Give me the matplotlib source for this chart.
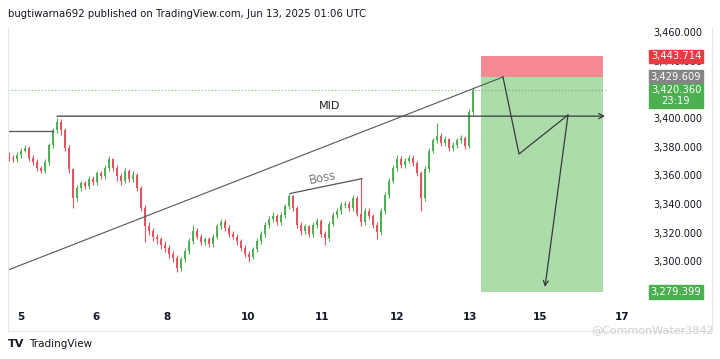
import matplotlib.pyplot as plt
import matplotlib.transforms as mtransforms
import numpy as np

# Price data (XAUUSD, approx. 1 bar per hour)
closes = [3373, 3372, 3375, 3378, 3380, 3373, 3370, 3366, 3364, 3370,
          3382, 3392, 3398, 3392, 3380, 3365, 3345, 3352, 3355, 3353,
          3358, 3356, 3362, 3360, 3366, 3372, 3366, 3360, 3357, 3364,
          3358, 3361, 3352, 3338, 3325, 3322, 3318, 3316, 3312, 3310,
          3306, 3303, 3296, 3302, 3308, 3315, 3322, 3318, 3314, 3316,
          3313, 3318, 3325, 3328, 3324, 3320, 3318, 3315, 3310, 3306,
          3304, 3309, 3315, 3320, 3326, 3330, 3332, 3328, 3333, 3339,
          3346, 3338, 3326, 3322, 3325, 3320, 3326, 3329, 3320, 3317,
          3327, 3333, 3336, 3340, 3341, 3338, 3345, 3334, 3328, 3336,
          3332, 3326, 3321, 3336, 3347, 3357, 3366, 3372, 3368, 3371,
          3373, 3369, 3362, 3345, 3365, 3378, 3385, 3388, 3383, 3386,
          3380, 3382, 3385, 3387, 3381, 3405, 3420.36]
highs = [3377, 3375, 3377, 3380, 3382, 3381, 3375, 3372, 3367, 3372,
         3383, 3394, 3401, 3400, 3394, 3382, 3366, 3354, 3357, 3357,
         3360, 3360, 3364, 3364, 3368, 3374, 3373, 3368, 3362, 3366,
         3365, 3364, 3362, 3353, 3340, 3328, 3324, 3320, 3318, 3315,
         3312, 3308, 3305, 3304, 3310, 3317, 3326, 3324, 3320, 3318,
         3318, 3320, 3327, 3330, 3330, 3326, 3322, 3320, 3316, 3312,
         3308, 3311, 3317, 3322, 3328, 3332, 3335, 3334, 3335, 3341,
         3348, 3347, 3339, 3328, 3327, 3326, 3328, 3331, 3330, 3322,
         3329, 3335, 3338, 3342, 3343, 3343, 3347, 3346, 3359, 3338,
         3338, 3334, 3328, 3338, 3349, 3359, 3368, 3375, 3374, 3373,
         3375, 3375, 3371, 3364, 3367, 3380, 3387, 3397, 3390, 3388,
         3387, 3384, 3387, 3389, 3388, 3407, 3422]
lows = [3371, 3370, 3370, 3373, 3377, 3371, 3368, 3364, 3362, 3362,
        3368, 3380, 3390, 3389, 3378, 3362, 3338, 3343, 3350, 3351,
        3351, 3354, 3354, 3358, 3358, 3364, 3364, 3357, 3354, 3355,
        3356, 3356, 3350, 3336, 3314, 3319, 3315, 3313, 3309, 3307,
        3303, 3300, 3293, 3294, 3300, 3306, 3313, 3316, 3312, 3312,
        3311, 3311, 3316, 3323, 3322, 3318, 3316, 3312, 3308, 3304,
        3300, 3302, 3307, 3313, 3318, 3324, 3328, 3326, 3326, 3331,
        3337, 3336, 3324, 3319, 3320, 3318, 3318, 3324, 3318, 3312,
        3315, 3325, 3331, 3334, 3338, 3336, 3336, 3332, 3325, 3326,
        3330, 3324, 3316, 3319, 3334, 3345, 3355, 3364, 3366, 3366,
        3369, 3367, 3360, 3336, 3343, 3363, 3376, 3383, 3381, 3381,
        3378, 3378, 3380, 3383, 3379, 3380, 3403]
first_open = 3375

# Day labels on the time axis (bar positions)
day_labels = ["5", "6", "8", "10", "11", "12", "13", "15", "17"]
day_pos = [3, 21.75, 39.5, 59.75, 78.25, 97, 115.25, 132.75, 153.25]

# Right scale labels (3,420 is fully covered by the tags, so left out)
price_ticks = [3460, 3440, 3400, 3380, 3360, 3340, 3320, 3300]
stop_price = 3443.714
entry_price = 3429.609
last_price = 3420.360
target_price = 3279.399

# Drawings (bar, price)
old_level = ([-0.25, 11], [3391.5, 3391.5])
mid_level = ([12, 149], [3402, 3402])
trend_line = ([-0.25, 123.5], [3294.6, 3429.3])
path_x = [123.5, 127.5, 139.75]
path_y = [3429.3, 3375.6, 3402.8]
path_end = (134, 3282.8)
boss_line = ([70.25, 88.25], [3348.0, 3358.4])
box_x = [118, 148.5]

up_color = "#4fb152"
down_color = "#e5535f"

fig = plt.figure(figsize=(7.2, 3.59), dpi=100)
ax = fig.add_axes([8 / 720, 1 - 300 / 359, 600 / 720, 273 / 359])
ax.set_xlim(-0.25, 149.75)
ax.set_ylim(3273.7, 3464.2)
for s in ax.spines.values():
    s.set_visible(False)
ax.set_xticks([])
ax.set_yticks([])

# Candles
opens = [first_open] + closes[:-1]
x = np.arange(len(closes))
o = np.array(opens)
c = np.array(closes)
h = np.maximum(np.array(highs), np.maximum(o, c))
l = np.minimum(np.array(lows), np.minimum(o, c))
colors = [up_color if cc >= oo else down_color for oo, cc in zip(o, c)]
ax.vlines(x, l, h, colors=colors, linewidth=0.8, zorder=3)
body = np.maximum(np.abs(c - o), 0.5)
ax.bar(x, body, bottom=np.minimum(o, c), width=0.7, color=colors,
       linewidth=0, zorder=3)

# Short position box
ax.fill_between(box_x, entry_price, stop_price, color="#f58a93", lw=0, zorder=1)
ax.fill_between(box_x, target_price, entry_price, color="#acdcaa", lw=0, zorder=1)

# Last price dotted line
ax.axhline(last_price, color="#4caf50", lw=0.8, ls=(0, (1, 2)), alpha=0.8,
           zorder=2, clip_on=False)

# Lines drawn by the author
line_color = "#3a3a3a"
ax.plot(*old_level, color="#555555", lw=0.9, zorder=4)
ax.annotate("", xy=(mid_level[0][1], mid_level[1][1]),
            xytext=(mid_level[0][0], mid_level[1][0]),
            arrowprops=dict(arrowstyle="->", color=line_color, lw=0.9,
                            shrinkA=0, shrinkB=0, mutation_scale=9), zorder=4)
ax.text(80.25, 3409, "MID", fontsize=8, color="#222222", ha="center",
        va="center", zorder=5)
ax.plot(*trend_line, color="#555555", lw=0.8, zorder=4)
ax.plot(path_x, path_y, color=line_color, lw=0.9, zorder=4)
ax.annotate("", xy=path_end, xytext=(path_x[-1], path_y[-1]),
            arrowprops=dict(arrowstyle="->", color=line_color, lw=0.9,
                            shrinkA=0, shrinkB=0, mutation_scale=9), zorder=4)
ax.plot(*boss_line, color="#555555", lw=0.9, zorder=4)
ax.text(78.5, 3358.6, "Boss", fontsize=8.5, color="#7a7a7a", ha="center",
        va="center", rotation=11, zorder=5)

# Price scale on the right
tr = mtransforms.blended_transform_factory(fig.transFigure, ax.transData)
for p in price_ticks:
    ax.text(702 / 720, p, f"{p:,.3f}", transform=tr, ha="right", va="center",
            fontsize=7, color="#131722", clip_on=False, zorder=1)


def price_tag(price, text, bg):
    ax.text(676 / 720, price, text, transform=tr, ha="center",
            va="center", fontsize=7.2, color="white", clip_on=False, zorder=10,
            linespacing=1.1,
            bbox=dict(boxstyle="square,pad=0.17", fc=bg, ec=bg))


price_tag(stop_price, f"{stop_price:,.3f}", "#ea3943")
price_tag(entry_price, f"{entry_price:,.3f}", "#858585")
price_tag(last_price - 4.2, f"{last_price:,.3f}\n23:19", "#4caf50")
price_tag(target_price, f"{target_price:,.3f}", "#4caf50")

# Time axis labels
trx = mtransforms.blended_transform_factory(ax.transData, fig.transFigure)
for pos, lab in zip(day_pos, day_labels):
    ax.text(pos, 1 - 317 / 359, lab, transform=trx, ha="center", va="center",
            fontsize=7.5, fontweight="bold", color="#131722", clip_on=False)

# Frame lines
fig.add_artist(plt.Line2D([8 / 720, 712 / 720], [1 - 331 / 359] * 2,
                          color="#e6e6e6", lw=0.8))
fig.add_artist(plt.Line2D([712 / 720] * 2, [1 - 331 / 359, 1 - 27 / 359],
                          color="#e6e6e6", lw=0.8))
fig.add_artist(plt.Line2D([8 / 720] * 2, [1 - 331 / 359, 1 - 27 / 359],
                          color="#e6e6e6", lw=0.8))

# Header and footer
fig.text(8 / 720, 1 - 14 / 359,
         "bugtiwarna692 published on TradingView.com, Jun 13, 2025 01:06 UTC",
         fontsize=7.3, color="#131722", va="center", ha="left")
fig.text(8 / 720, 1 - 344 / 359, "TV", fontsize=8, fontweight="bold",
         color="#131722", va="center", ha="left")
fig.text(29 / 720, 1 - 344 / 359, "TradingView", fontsize=7.5,
         color="#131722", va="center", ha="left")
fig.text(714 / 720, 1 - 330 / 359, "@CommonWater3842", fontsize=8,
         color="#cfcfcf", va="center", ha="right")

fig.savefig("out.png", dpi=100)
